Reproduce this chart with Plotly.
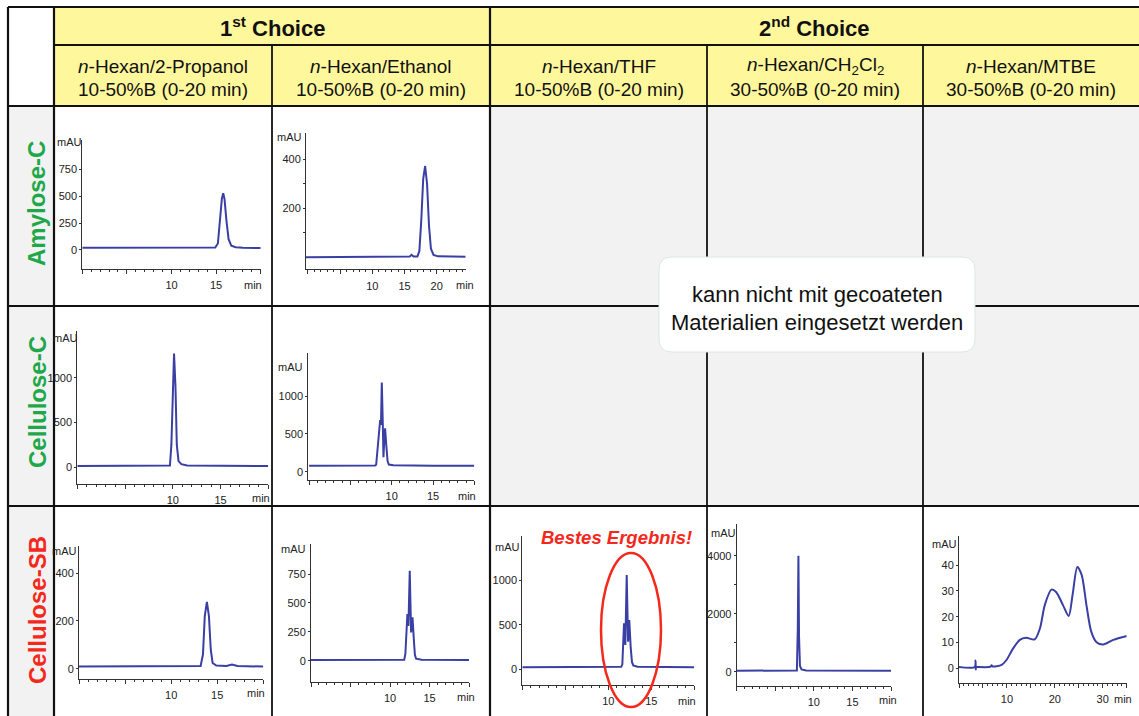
import plotly.graph_objects as go

W, H = 1139, 716

# ---------------- data ----------------
ROW_LABELS = ["Amylose-C", "Cellulose-C", "Cellulose-SB"]
GROUP_LABELS = ["1<sup>st</sup> Choice", "2<sup>nd</sup> Choice"]
COLUMN_SOLVENTS = [
    "<i>n</i>-Hexan/2-Propanol",
    "<i>n</i>-Hexan/Ethanol",
    "<i>n</i>-Hexan/THF",
    "<i>n</i>-Hexan/CH<sub>2</sub>Cl<sub>2</sub>",
    "<i>n</i>-Hexan/MTBE",
]
COLUMN_GRADIENTS = [
    "10-50%B (0-20 min)",
    "10-50%B (0-20 min)",
    "10-50%B (0-20 min)",
    "30-50%B (0-20 min)",
    "30-50%B (0-20 min)",
]
NOTE_LINES = ["kann nicht mit gecoateten", "Materialien eingesetzt werden"]
BEST_TEXT = "Bestes Ergebnis!"
Y_UNIT = "mAU"
X_UNIT = "min"

# Amylose-C / 2-Propanol
A1_T = [0, 5, 10, 14.9, 15.2, 15.45, 15.65, 15.8, 15.95, 16.15, 16.4, 16.7, 17.2, 18, 20]
A1_Y = [20, 20, 20, 22, 60, 300, 480, 527, 470, 280, 100, 40, 25, 20, 18]
# Amylose-C / Ethanol
A2_T = [-0.3, 3, 3.3, 3.6, 10, 12.5, 15.8, 16.1, 16.4, 17.0, 17.3, 17.6, 17.9, 18.2, 18.5, 18.8, 19.1, 19.5, 20.2, 24.5]
A2_Y = [0, 0, 3, 0, 0, 3, 3, 10, 3, 3, 25, 150, 320, 373, 300, 130, 35, 10, 4, 2]
# Cellulose-C / 2-Propanol
B1_T = [0, 5, 9.7, 9.85, 9.98, 10.13, 10.28, 10.42, 10.6, 10.9, 11.5, 15, 20]
B1_Y = [15, 15, 20, 250, 900, 1269, 900, 250, 70, 35, 20, 15, 15]
# Cellulose-C / Ethanol
B2_T = [0, 5, 8.0, 8.12, 8.35, 8.6, 8.7, 8.8, 8.92, 9.0, 9.1, 9.2, 9.32, 9.5, 9.65, 10.2, 15, 20]
B2_Y = [80, 80, 82, 95, 420, 684, 620, 1180, 640, 190, 420, 574, 380, 140, 95, 85, 80, 80]
# Cellulose-SB / 2-Propanol
C1_T = [0, 5, 10, 13.2, 13.45, 13.65, 13.88, 14.1, 14.3, 14.5, 14.9, 16.0, 16.6, 17.2, 20]
C1_Y = [10, 10, 10, 12, 60, 220, 280, 220, 80, 25, 14, 12, 18, 12, 10]
# Cellulose-SB / Ethanol
C2_T = [0, 5, 11.8, 11.95, 12.1, 12.2, 12.33, 12.5, 12.67, 12.85, 13.0, 13.15, 13.3, 14, 20]
C2_Y = [5, 5, 8, 60, 330, 404, 300, 779, 245, 375, 200, 50, 17, 8, 5]
# Cellulose-SB / THF
C3_T = [0, 5, 11.5, 11.63, 11.75, 11.83, 11.98, 12.14, 12.3, 12.44, 12.6, 12.75, 12.9, 13.4, 20]
C3_Y = [20, 20, 25, 50, 330, 517, 271, 1063, 309, 554, 250, 80, 40, 25, 20]
# Cellulose-SB / CH2Cl2
C4_T = [0, 3, 7.8, 7.92, 8.0, 8.08, 8.2, 8.4, 9, 20]
C4_Y = [35, 35, 40, 1500, 4000, 1200, 200, 80, 45, 35]
# Cellulose-SB / MTBE
C5_T = [0, 3.3, 3.45, 3.5, 3.55, 3.7, 6.6, 6.8, 7.0, 8.9, 9.9, 11.3, 12.7, 14.0, 15.8, 16.9, 17.9,
        19.3, 20.3, 21.7, 22.9, 23.7, 24.7, 25.6, 26.6, 27.6, 28.7, 30.1, 32.2, 35]
C5_Y = [0.5, 0.5, 3, -0.5, 0.5, 0.5, 0.6, 1.2, 0.7, 1.3, 3.2, 7.7, 11, 11.8, 11.2, 15.5, 24.5,
        30.5, 29.5, 24.5, 20.3, 28.4, 39.3, 36.2, 24.5, 14.2, 10.1, 9.2, 11, 12.5]

# tick marks and tick labels
X_MARKS_20 = [0, 5, 10, 15, 20]
X_LABELS_20 = [10, 15]
X_LABELS_20B = [10, 15, 20]
X_MARKS_35 = [0, 5, 10, 15, 20, 25, 30, 35]
X_LABELS_35 = [10, 20, 30]
Y_MARKS_A1 = [0, 250, 500, 750]
Y_MARKS_A2 = [100, 200, 300, 400]
Y_LABELS_A2 = [200, 400]
Y_MARKS_B = [0, 500, 1000]
Y_MARKS_C1 = [0, 200, 400]
Y_MARKS_C2 = [0, 250, 500, 750]
Y_MARKS_C3 = [0, 500, 1000]
Y_MARKS_C4 = [0, 1000, 2000, 3000, 4000]
Y_LABELS_C4 = [0, 2000, 4000]
Y_MARKS_C5 = [0, 10, 20, 30, 40]

# ---------------- layout / style ----------------
FONT = "Liberation Sans, Arial, Helvetica, sans-serif"
LINE_COLOR = "#3a3fa3"
GRID_COLOR = "#111111"
YELLOW = "#fff79c"
GREY = "#f2f2f2"
GREEN = "#1fa84a"
RED = "#f5281c"
TICK_FONT = dict(size=11, family=FONT, color="#222")


def px(x):
    return x / W


def py(y):
    return 1 - y / H


# geometry of each chromatogram (pixel box: left, top, right, bottom)
PANELS = [
    dict(t=A1_T, y=A1_Y, box=(82.3, 140, 260.7, 269), xr=[0, 20], yr=[-177, 1022],
         xm=X_MARKS_20, xl=X_LABELS_20, ym=Y_MARKS_A1, yl=Y_MARKS_A1, mau=(69, 142), mn=(253, 285)),
    dict(t=A2_T, y=A2_Y, box=(306, 132.7, 465.7, 269.3), xr=[-0.3, 24.5], yr=[-49, 509],
         xm=X_MARKS_20, xl=X_LABELS_20B, ym=Y_MARKS_A2, yl=Y_LABELS_A2, mau=(289, 137), mn=(465, 285)),
    dict(t=B1_T, y=B1_Y, box=(77.3, 331, 268.3, 484), xr=[0, 20], yr=[-186, 1521],
         xm=X_MARKS_20, xl=X_LABELS_20, ym=Y_MARKS_B, yl=Y_MARKS_B, mau=(65, 338), mn=(260.5, 498)),
    dict(t=B2_T, y=B2_Y, box=(308.3, 353.3, 474.3, 480), xr=[-0.1, 20], yr=[-110, 1566],
         xm=X_MARKS_20, xl=X_LABELS_20, ym=Y_MARKS_B, yl=Y_MARKS_B, mau=(290, 367), mn=(467, 496)),
    dict(t=C1_T, y=C1_Y, box=(79, 545.7, 263.3, 679), xr=[0, 20], yr=[-42, 514],
         xm=X_MARKS_20, xl=X_LABELS_20, ym=Y_MARKS_C1, yl=Y_MARKS_C1, mau=(64, 551), mn=(256, 693)),
    dict(t=C2_T, y=C2_Y, box=(311, 544.3, 469, 681.7), xr=[0, 20], yr=[-182, 1007],
         xm=X_MARKS_20, xl=X_LABELS_20, ym=Y_MARKS_C2, yl=Y_MARKS_C2, mau=(294, 549), mn=(466, 697)),
    dict(t=C3_T, y=C3_Y, box=(522.3, 535.7, 694.3, 685), xr=[0, 20], yr=[-181, 1508],
         xm=X_MARKS_20, xl=X_LABELS_20, ym=Y_MARKS_C3, yl=Y_MARKS_C3, mau=(507.5, 547), mn=(687, 701)),
    dict(t=C4_T, y=C4_Y, box=(736.7, 524, 891, 686), xr=[0, 20], yr=[-493, 5093],
         xm=X_MARKS_20, xl=X_LABELS_20, ym=Y_MARKS_C4, yl=Y_LABELS_C4, mau=(723, 533), mn=(888, 700)),
    dict(t=C5_T, y=C5_Y, box=(959, 536, 1126.7, 682.7), xr=[0, 35], yr=[-5.6, 51.3],
         xm=X_MARKS_35, xl=X_LABELS_35, ym=Y_MARKS_C5, yl=Y_MARKS_C5, mau=(944, 544), mn=(1123, 699),
         shape="spline"),
]

COL_EDGES = [54, 272, 490, 707, 923, 1139]
TOP, HEAD_MID, HEAD_BOT = 7, 45, 106
ROW_EDGES = [106, 306, 506, 716]
LEFT = 8

fig = go.Figure()
layout = dict(
    width=W, height=H, margin=dict(l=0, r=0, t=0, b=0),
    paper_bgcolor="white", plot_bgcolor="rgba(0,0,0,0)",
    showlegend=False, font=dict(family=FONT, color="#222"),
)

annotations = []
shapes = []
N = len(PANELS)


def ax_name(k):
    return "" if k == 1 else str(k)


def note(x, y, text, font, **kw):
    annotations.append(dict(x=px(x), y=py(y), xref="paper", yref="paper", text=text,
                            showarrow=False, xanchor="center", yanchor="middle", font=font, **kw))


for i, p in enumerate(PANELS, start=1):
    sfx = ax_name(i)
    ox = str(N + i)          # overlay x axis carrying unlabeled tick marks
    oy = str(2 * N + i)      # overlay y axis carrying unlabeled tick marks
    l, t, r, b = p["box"]
    fig.add_trace(go.Scatter(
        x=p["t"], y=p["y"], mode="lines",
        line=dict(color=LINE_COLOR, width=2, shape=p.get("shape", "linear"), smoothing=0.8),
        xaxis="x" + sfx, yaxis="y" + sfx, hoverinfo="skip",
    ))
    fig.add_trace(go.Scatter(x=[None], y=[None], mode="lines", xaxis="x" + ox, yaxis="y" + sfx,
                             hoverinfo="skip"))
    fig.add_trace(go.Scatter(x=[None], y=[None], mode="lines", xaxis="x" + sfx, yaxis="y" + oy,
                             hoverinfo="skip"))
    layout["xaxis" + sfx] = dict(
        domain=[px(l), px(r)], range=p["xr"], anchor="y" + sfx,
        showline=True, linecolor="#333", linewidth=1, showgrid=False, zeroline=False,
        ticks="outside", ticklen=4, tickwidth=1, tickcolor="#333",
        tickmode="array", tickvals=p["xl"], ticktext=[str(v) for v in p["xl"]],
        tickfont=TICK_FONT, ticklabelstandoff=2, fixedrange=True,
    )
    layout["xaxis" + ox] = dict(
        overlaying="x" + sfx, anchor="y" + sfx, range=p["xr"], showline=False, showgrid=False,
        zeroline=False, showticklabels=False,
        ticks="outside", ticklen=4, tickwidth=1, tickcolor="#333",
        tickmode="array", tickvals=p["xm"],
        minor=dict(ticks="outside", ticklen=2, tickwidth=1, tickcolor="#333",
                   tickmode="linear", tick0=0, dtick=1, showgrid=False),
        fixedrange=True,
    )
    layout["yaxis" + sfx] = dict(
        domain=[py(b), py(t)], range=p["yr"], anchor="x" + sfx,
        showline=True, linecolor="#333", linewidth=1, showgrid=False, zeroline=False,
        ticks="outside", ticklen=2, tickwidth=1, tickcolor="#333",
        tickmode="array", tickvals=p["yl"], ticktext=[str(v) for v in p["yl"]],
        tickfont=TICK_FONT, fixedrange=True,
    )
    layout["yaxis" + oy] = dict(
        overlaying="y" + sfx, anchor="x" + sfx, range=p["yr"], showline=False, showgrid=False,
        zeroline=False, showticklabels=False,
        ticks="outside", ticklen=2, tickwidth=1, tickcolor="#333",
        tickmode="array", tickvals=p["ym"], fixedrange=True,
    )
    note(p["mau"][0], p["mau"][1], Y_UNIT, TICK_FONT)
    note(p["mn"][0], p["mn"][1], X_UNIT, TICK_FONT)


# ---- cell fills ----
def rect(x0, y0, x1, y1, fill):
    shapes.append(dict(type="rect", xref="paper", yref="paper", x0=px(x0), x1=px(x1),
                       y0=py(y1), y1=py(y0), fillcolor=fill, line=dict(width=0), layer="below"))


rect(COL_EDGES[0], TOP, COL_EDGES[-1], HEAD_BOT, YELLOW)
rect(LEFT, HEAD_BOT, COL_EDGES[0], H, GREY)
rect(COL_EDGES[2], ROW_EDGES[0], COL_EDGES[-1], ROW_EDGES[2], GREY)


def seg(x0, y0, x1, y1, w=1.8):
    shapes.append(dict(type="line", xref="paper", yref="paper", x0=px(x0), x1=px(x1),
                       y0=py(y0), y1=py(y1), line=dict(color=GRID_COLOR, width=w), layer="below"))


seg(LEFT, TOP, W, TOP, 2.2)
seg(LEFT, TOP, LEFT, H, 2.2)
seg(COL_EDGES[0], TOP, COL_EDGES[0], H, 2.2)
seg(COL_EDGES[2], TOP, COL_EDGES[2], H, 2.2)
seg(COL_EDGES[0], HEAD_MID, W, HEAD_MID)
for ry in ROW_EDGES[:3]:
    seg(LEFT, ry, W, ry)
for cx in (COL_EDGES[1], COL_EDGES[3], COL_EDGES[4]):
    seg(cx, HEAD_MID, cx, H)


# ---- rounded note box ----
def rrect_path(x0, y0, x1, y1, r):
    P = lambda x, y: f"{px(x):.5f},{py(y):.5f}"
    return (f"M {P(x0 + r, y0)} L {P(x1 - r, y0)} Q {P(x1, y0)} {P(x1, y0 + r)} "
            f"L {P(x1, y1 - r)} Q {P(x1, y1)} {P(x1 - r, y1)} L {P(x0 + r, y1)} "
            f"Q {P(x0, y1)} {P(x0, y1 - r)} L {P(x0, y0 + r)} Q {P(x0, y0)} {P(x0 + r, y0)} Z")


shapes.append(dict(type="path", xref="paper", yref="paper", path=rrect_path(659, 257, 975, 352, 13),
                   fillcolor="white", line=dict(color="#dfe5e5", width=1), layer="below"))
NOTE_FONT = dict(size=22, family=FONT, color="#111")
for line_txt, yy in zip(NOTE_LINES, [294, 322]):
    note(817, yy, line_txt, NOTE_FONT)

# ---- highlight ----
shapes.append(dict(type="circle", xref="paper", yref="paper", x0=px(601), x1=px(661),
                   y0=py(707), y1=py(553), line=dict(color=RED, width=2.5), layer="above"))
note(616, 537, BEST_TEXT, dict(size=18.5, family=FONT, color=RED, weight="bold", style="italic"))

# ---- headers ----
group_spans = [(COL_EDGES[0], COL_EDGES[2]), (COL_EDGES[2], COL_EDGES[-1])]
for lbl, (a, b) in zip(GROUP_LABELS, group_spans):
    note((a + b) / 2, 27, lbl, dict(size=22, family=FONT, color="#111", weight="bold"))
HEAD_FONT = dict(size=19, family=FONT, color="#111")
for k in range(len(COLUMN_SOLVENTS)):
    a, b = COL_EDGES[k], COL_EDGES[k + 1]
    note((a + b) / 2, 66, COLUMN_SOLVENTS[k], HEAD_FONT)
    note((a + b) / 2, 89, COLUMN_GRADIENTS[k], HEAD_FONT)

row_colors = [GREEN, GREEN, RED]
row_centers = [204, 402, 610]
for lbl, c, yc in zip(ROW_LABELS, row_colors, row_centers):
    note(37, yc, lbl, dict(size=24, family=FONT, color=c, weight="bold"), textangle=-90)

layout["annotations"] = annotations
layout["shapes"] = shapes
fig.update_layout(**layout)
fig.write_html("out.html", config={"displayModeBar": False})
